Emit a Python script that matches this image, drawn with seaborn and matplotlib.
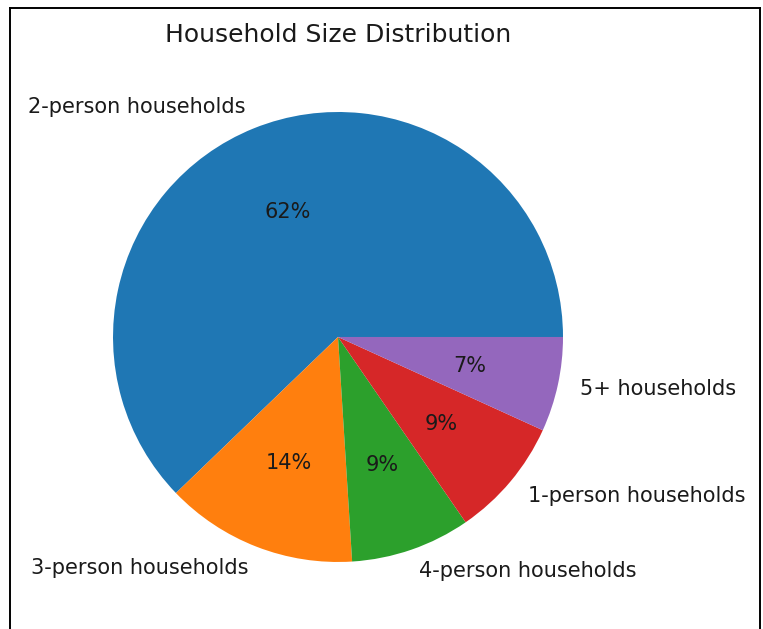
import matplotlib
matplotlib.use("Agg")
import matplotlib.pyplot as plt
from matplotlib.lines import Line2D
import seaborn as sns

# household size shares (%)
labels = ["2-person households", "3-person households", "4-person households",
          "1-person households", "5+ households"]
shares = [62.2, 13.8, 8.6, 8.6, 6.8]

colors = sns.color_palette("tab10", len(labels))

fig = plt.figure(figsize=(7.63, 6.29), dpi=100)
ax = fig.add_axes([0.0744, 0.0171, 0.7372, 0.8943])

ax.pie(shares, labels=labels, colors=colors, autopct="%1.0f%%",
       textprops={"fontsize": 15, "color": "#1a1a1a"})
ax.set_title("Household Size Distribution", fontsize=18, pad=10,
             color="#1a1a1a")

# frame of the screenshot
fig.add_artist(Line2D([0.0125, 0.0125], [0.0, 0.988], color="black", lw=1.4))
fig.add_artist(Line2D([0.0125, 0.9965], [0.988, 0.988], color="black", lw=1.4))
fig.add_artist(Line2D([0.9965, 0.9965], [0.0, 0.988], color="black", lw=1.4))

plt.savefig("out.png", dpi=100)
